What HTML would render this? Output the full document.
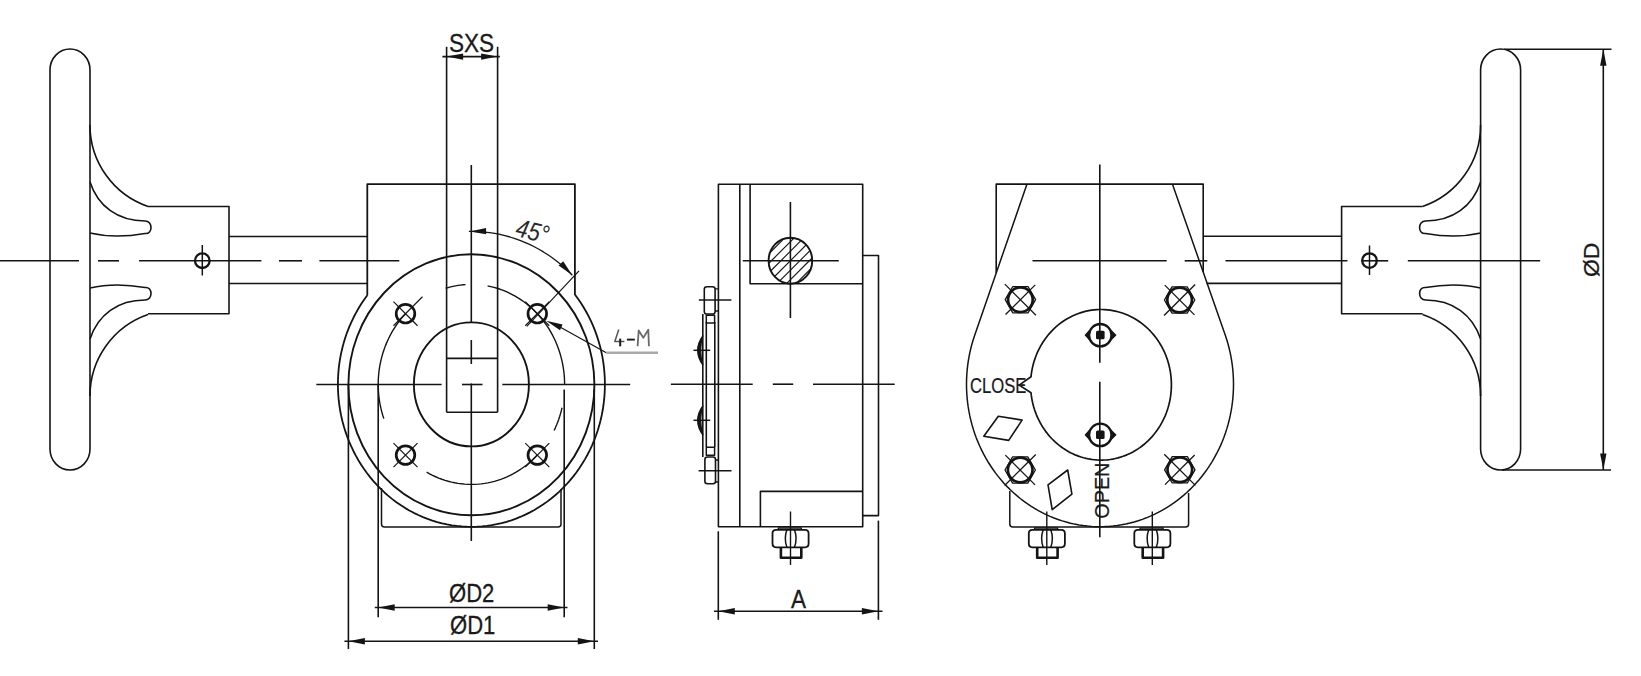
<!DOCTYPE html>
<html><head><meta charset="utf-8"><style>
html,body{margin:0;padding:0;background:#fff;}
svg{display:block;font-family:"Liberation Sans",sans-serif;}
</style></head><body>
<svg width="1641" height="676" viewBox="0 0 1641 676">
<rect width="1641" height="676" fill="#fff"/>
<path d="M50,70 A20,21 0 0 1 90,70 L90,449 A20,21 0 0 1 50,449 Z" fill="none" stroke="#141414" stroke-width="1.6" stroke-linejoin="round" />
<path d="M90,125 A86,86 0 0 0 148,206.5" fill="none" stroke="#141414" stroke-width="1.6" stroke-linejoin="round" />
<path d="M90,182 C98,206.5 118,221 145,221 C153,221 153,234.5 145,233.5 C125,237 105,236.5 90,233" fill="none" stroke="#141414" stroke-width="1.6" stroke-linejoin="round" />
<path d="M90,396 A86,86 0 0 1 148,314.5" fill="none" stroke="#141414" stroke-width="1.6" stroke-linejoin="round" />
<path d="M90,339 C98,314.5 118,300 145,300 C153,300 153,286.5 145,287.5 C125,284 105,284.5 90,288" fill="none" stroke="#141414" stroke-width="1.6" stroke-linejoin="round" />
<path d="M148,206.5 L229,206.5 L229,313.7 L148,313.7" fill="none" stroke="#141414" stroke-width="1.6" stroke-linejoin="round" />
<line x1="229" y1="236.5" x2="368" y2="236.5" stroke="#141414" stroke-width="1.6" />
<line x1="229" y1="283.5" x2="368" y2="283.5" stroke="#141414" stroke-width="1.6" />
<circle cx="202.3" cy="260.7" r="7.3" fill="none" stroke="#141414" stroke-width="2.3"/>
<line x1="202.3" y1="245" x2="202.3" y2="275.5" stroke="#141414" stroke-width="1.5" />
<line x1="0" y1="260.8" x2="79" y2="260.8" stroke="#141414" stroke-width="1.6" />
<line x1="98" y1="260.8" x2="119" y2="260.8" stroke="#141414" stroke-width="1.6" />
<line x1="139" y1="260.8" x2="261.4" y2="260.8" stroke="#141414" stroke-width="1.6" />
<line x1="279" y1="260.8" x2="302" y2="260.8" stroke="#141414" stroke-width="1.6" />
<line x1="319.4" y1="260.8" x2="399.3" y2="260.8" stroke="#141414" stroke-width="1.6" />
<path d="M367.3,295.25 L367.3,184.1 L574.9,184.1 L574.9,294.46 L577.99,298.66 L580.93,302.99 L583.71,307.43 L586.34,311.97 L588.81,316.62 L591.11,321.37 L593.24,326.2 L595.2,331.12 L596.99,336.11 L598.6,341.16 L600.03,346.28 L601.28,351.46 L602.35,356.67 L603.23,361.93 L603.93,367.22 L604.44,372.54 L604.76,377.87 L604.9,383.21 L604.84,388.55 L604.6,393.88 L604.18,399.21 L603.56,404.51 L602.76,409.78 L601.78,415.02 L600.61,420.21 L599.26,425.36 L597.73,430.44 L596.02,435.46 L594.14,440.41 L592.08,445.28 L589.86,450.07 L587.46,454.76 L584.91,459.36 L582.19,463.84 L579.32,468.22 L576.3,472.48 L573.13,476.61 L569.81,480.62 L566.36,484.49 L562.78,488.22 L559.06,491.8 L555.22,495.23 L551.27,498.51 L547.2,501.62 L543.02,504.57 L538.75,507.35 L534.38,509.96 L529.92,512.39 L525.38,514.64 L520.76,516.71 L516.07,518.59 L511.32,520.28 L506.52,521.79 L501.66,523.09 L496.76,524.21 L491.83,525.12 L486.87,525.84 L481.88,526.36 L476.88,526.68 L471.88,526.8 L466.87,526.72 L461.87,526.44 L456.88,525.96 L451.91,525.27 L446.97,524.4 L442.07,523.32 L437.21,522.05 L432.39,520.58 L427.63,518.93 L422.93,517.08 L418.3,515.05 L413.74,512.83 L409.27,510.44 L404.88,507.86 L400.58,505.11 L396.39,502.2 L392.3,499.11 L388.32,495.87 L384.46,492.47 L380.72,488.91 L377.11,485.21 L373.63,481.37 L370.29,477.39 L367.09,473.28 L364.04,469.04 L361.14,464.69 L358.4,460.22 L355.81,455.65 L353.39,450.97 L351.13,446.2 L349.04,441.35 L347.12,436.41 L345.38,431.4 L343.82,426.33 L342.43,421.2 L341.23,416.01 L340.21,410.78 L339.38,405.51 L338.73,400.22 L338.26,394.9 L337.99,389.57 L337.9,384.22 L338,378.88 L338.29,373.55 L338.76,368.23 L339.42,362.94 L340.27,357.67 L341.3,352.45 L342.52,347.26 L343.92,342.13 L345.49,337.06 L347.24,332.06 L349.17,327.13 L351.27,322.28 L353.54,317.52 L355.98,312.85 L358.57,308.28 L361.33,303.82 L364.24,299.48 L367.3,295.25" fill="none" stroke="#141414" stroke-width="1.8" stroke-linejoin="round" />
<ellipse cx="471.4" cy="384.8" rx="123" ry="130.5" fill="none" stroke="#141414" stroke-width="1.9"/>
<ellipse cx="471.4" cy="384.4" rx="57.5" ry="62" fill="none" stroke="#141414" stroke-width="1.9"/>
<line x1="446.6" y1="46.8" x2="446.6" y2="412.3" stroke="#141414" stroke-width="1.6" />
<line x1="497.6" y1="46.8" x2="497.6" y2="412.3" stroke="#141414" stroke-width="1.6" />
<line x1="446.6" y1="358.4" x2="497.6" y2="358.4" stroke="#141414" stroke-width="1.6" />
<line x1="446.6" y1="412.3" x2="497.6" y2="412.3" stroke="#141414" stroke-width="1.6" />
<line x1="471.3" y1="165" x2="471.3" y2="322" stroke="#141414" stroke-width="1.6" />
<line x1="471.3" y1="340" x2="471.3" y2="364" stroke="#141414" stroke-width="1.6" />
<line x1="471.3" y1="383.5" x2="471.3" y2="541" stroke="#141414" stroke-width="1.6" />
<line x1="316.3" y1="384.5" x2="441.6" y2="384.5" stroke="#141414" stroke-width="1.6" />
<line x1="462" y1="384.5" x2="482.5" y2="384.5" stroke="#141414" stroke-width="1.6" />
<line x1="502.3" y1="384.5" x2="630.2" y2="384.5" stroke="#141414" stroke-width="1.6" />
<path d="M487.58,285.92 L490.78,286.59 L493.95,287.37 L497.09,288.27 L500.2,289.29 L503.28,290.43 L506.31,291.68 L509.31,293.05 L512.26,294.52 L515.15,296.11 L518,297.8 L520.79,299.6 L523.52,301.5 L526.18,303.5 L528.78,305.6 L531.31,307.8 L533.76,310.09 L536.14,312.47 L538.44,314.93 L540.66,317.49 L542.8,320.12 L544.84,322.83 L546.8,325.62 L548.67,328.48 L550.44,331.41 L552.11,334.4 L553.69,337.45 L555.17,340.56 L556.54,343.73 L557.81,346.94 L558.98,350.2 L560.04,353.5 L560.99,356.84 L561.83,360.21 L562.56,363.61 L563.18,367.04 L563.69,370.48 L564.09,373.95 L564.37,377.42 L564.54,380.91 L564.6,384.4" fill="none" stroke="#141414" stroke-width="1.4" stroke-linejoin="round" />
<path d="M562.02,407.74 L561.32,410.7 L560.53,413.64 L559.65,416.54 L558.7,419.42 L557.66,422.26 L556.54,425.07 L555.35,427.84 L554.07,430.57" fill="none" stroke="#141414" stroke-width="1.4" stroke-linejoin="round" />
<path d="M537.3,455.11 L534.91,457.59 L532.43,459.98 L529.87,462.27 L527.24,464.46 L524.54,466.55 L521.77,468.54 L518.94,470.41 L516.05,472.18 L513.09,473.83 L510.09,475.38 L507.04,476.8 L503.94,478.11 L500.8,479.3 L497.62,480.36 L494.41,481.31 L491.17,482.13 L487.9,482.82 L484.61,483.39 L481.31,483.83 L477.99,484.15 L474.67,484.34 L471.34,484.4 L468.01,484.33 L464.68,484.14 L461.37,483.82 L458.06,483.37 L454.78,482.8 L451.51,482.1 L448.27,481.27 L445.06,480.32 L441.88,479.25 L438.74,478.06 L435.65,476.75 L432.59,475.32 L429.59,473.77 L426.64,472.11" fill="none" stroke="#141414" stroke-width="1.4" stroke-linejoin="round" />
<path d="M383.82,418.6 L382.75,415.25 L381.78,411.86 L380.93,408.43 L380.19,404.98 L379.57,401.5 L379.07,397.99 L378.67,394.47 L378.4,390.94 L378.24,387.4 L378.2,383.85 L378.28,380.31 L378.47,376.77 L378.78,373.24 L379.21,369.73 L379.75,366.23 L380.41,362.76 L381.18,359.31 L382.07,355.89 L383.06,352.51 L384.17,349.17 L385.39,345.88 L386.72,342.63 L388.15,339.44 L389.69,336.3 L391.33,333.22 L393.07,330.21 L394.91,327.27 L396.84,324.39 L398.87,321.6 L400.99,318.88 L403.2,316.24 L405.5,313.69" fill="none" stroke="#141414" stroke-width="1.4" stroke-linejoin="round" />
<path d="M445.71,288.27 L448.14,287.56 L450.59,286.92 L453.06,286.36 L455.54,285.86 L458.03,285.43 L460.53,285.08 L463.03,284.8 L465.55,284.6" fill="none" stroke="#141414" stroke-width="1.4" stroke-linejoin="round" />
<path d="M381.5,488 L381.5,523.9 Q381.5,526.9 384.5,526.9 L558,526.9 Q561,526.9 561,523.9 L561,489" fill="none" stroke="#141414" stroke-width="1.5" stroke-linejoin="round" />
<line x1="417.52" y1="325.71" x2="393.48" y2="301.67" stroke="#141414" stroke-width="1.2" />
<line x1="393.48" y1="325.71" x2="422.47" y2="296.72" stroke="#141414" stroke-width="1.2" />
<circle cx="405.5" cy="313.69" r="9.3" fill="none" stroke="#141414" stroke-width="2.7"/>
<line x1="525.28" y1="325.71" x2="549.32" y2="301.67" stroke="#141414" stroke-width="1.2" />
<line x1="525.28" y1="301.67" x2="549.32" y2="325.71" stroke="#141414" stroke-width="1.2" />
<circle cx="537.3" cy="313.69" r="9.3" fill="none" stroke="#141414" stroke-width="2.7"/>
<line x1="525.28" y1="443.09" x2="549.32" y2="467.13" stroke="#141414" stroke-width="1.2" />
<line x1="549.32" y1="443.09" x2="525.28" y2="467.13" stroke="#141414" stroke-width="1.2" />
<circle cx="537.3" cy="455.11" r="9.3" fill="none" stroke="#141414" stroke-width="2.7"/>
<line x1="417.52" y1="443.09" x2="393.48" y2="467.13" stroke="#141414" stroke-width="1.2" />
<line x1="417.52" y1="467.13" x2="393.48" y2="443.09" stroke="#141414" stroke-width="1.2" />
<circle cx="405.5" cy="455.11" r="9.3" fill="none" stroke="#141414" stroke-width="2.7"/>
<path d="M468.89,231.42 L474.08,231.43 L479.28,231.63 L484.46,232.03 L489.63,232.63 L494.77,233.43 L499.89,234.42 L504.96,235.61 L509.99,237 L514.97,238.57 L519.9,240.34 L524.76,242.29 L529.55,244.43 L534.27,246.75 L538.9,249.25 L543.45,251.93 L547.9,254.78 L552.25,257.8 L556.5,260.98 L560.64,264.32 L564.66,267.82 L568.56,271.47 L572.33,275.27" fill="none" stroke="#141414" stroke-width="1.3" stroke-linejoin="round" />
<polygon points="469.6,231.5 486.03,227.97 486.16,234.37" fill="#141414"/>
<polygon points="572.33,275.27 558.61,265.57 563.23,261.14" fill="#141414"/>
<line x1="579" y1="270.8" x2="526.8" y2="326.4" stroke="#141414" stroke-width="1.2" />
<text x="0" y="0" font-size="23" text-anchor="start" fill="#2a2a2a" stroke="#2a2a2a" stroke-width="0" transform="translate(514.5,235.8) rotate(14) scale(0.95,1.12)" style="font-style:italic">45°</text>
<polygon points="546.2,320.7 562.59,324.42 560.01,330.27" fill="#141414"/>
<line x1="560" y1="326.9" x2="606.3" y2="352.8" stroke="#141414" stroke-width="1.2" />
<line x1="606.3" y1="352.8" x2="658" y2="352.8" stroke="#aaaaaa" stroke-width="2.6" />
<path d="M618.8,329.6 L614.8,341.6 L624.4,341.6" fill="none" stroke="#555" stroke-width="1.5" stroke-linejoin="round" />
<line x1="620.2" y1="338.6" x2="620.2" y2="346.3" stroke="#1a1a1a" stroke-width="2.0" />
<line x1="626.9" y1="339.6" x2="634.8" y2="339.6" stroke="#1a1a1a" stroke-width="1.9" />
<path d="M637.6,346.2 L638.7,330.4 L643.3,337.8 L648.3,329.8 L648.9,346.2" fill="none" stroke="#6a6a6a" stroke-width="1.8" stroke-linejoin="round" />
<line x1="348.4" y1="385" x2="348.4" y2="649" stroke="#141414" stroke-width="1.6" />
<line x1="378.2" y1="385" x2="378.2" y2="617.3" stroke="#141414" stroke-width="1.6" />
<line x1="564.2" y1="389.6" x2="564.2" y2="617.3" stroke="#141414" stroke-width="1.6" />
<line x1="594.3" y1="389.6" x2="594.3" y2="649" stroke="#141414" stroke-width="1.6" />
<line x1="374.8" y1="607.5" x2="567.5" y2="607.5" stroke="#141414" stroke-width="1.6" />
<polygon points="378.2,607.5 394.7,604.3 394.7,610.7" fill="#141414"/>
<polygon points="564.2,607.5 547.7,610.7 547.7,604.3" fill="#141414"/>
<line x1="344.4" y1="641.2" x2="598" y2="641.2" stroke="#141414" stroke-width="1.6" />
<polygon points="348.4,641.2 364.9,638 364.9,644.4" fill="#141414"/>
<polygon points="594.3,641.2 577.8,644.4 577.8,638" fill="#141414"/>
<text x="0" y="0" font-size="23" text-anchor="start" fill="#1a1a1a" stroke="#1a1a1a" stroke-width="0.25" transform="translate(449,602.4) scale(0.96,1.1)" style="">ØD2</text>
<text x="0" y="0" font-size="23" text-anchor="start" fill="#1a1a1a" stroke="#1a1a1a" stroke-width="0.25" transform="translate(450,634.2) scale(0.96,1.1)" style="">ØD1</text>
<line x1="442.4" y1="56.6" x2="499.8" y2="56.6" stroke="#141414" stroke-width="1.6" />
<polygon points="446.6,56.6 463.1,53.4 463.1,59.8" fill="#141414"/>
<polygon points="497.6,56.6 481.1,59.8 481.1,53.4" fill="#141414"/>
<text x="0" y="0" font-size="23" text-anchor="start" fill="#1a1a1a" stroke="#1a1a1a" stroke-width="0.25" transform="translate(449,51.8) scale(0.98,1.12)" style="">SXS</text>
<path d="M718.4,184.2 L862.7,184.2 L862.7,526.8 L718.4,526.8 Z" fill="none" stroke="#141414" stroke-width="1.6" stroke-linejoin="round" />
<line x1="739.8" y1="184.2" x2="739.8" y2="526.8" stroke="#141414" stroke-width="1.6" />
<path d="M750.1,184.2 L750.1,283.7 L862.7,283.7" fill="none" stroke="#141414" stroke-width="1.6" stroke-linejoin="round" />
<path d="M760.4,526.8 L760.4,491.4 L862.7,491.4" fill="none" stroke="#141414" stroke-width="1.6" stroke-linejoin="round" />
<path d="M862.7,255.5 L878.5,255.5 L878.5,515.6 L862.7,515.6" fill="none" stroke="#141414" stroke-width="1.6" stroke-linejoin="round" />
<clipPath id="hc"><ellipse cx="790.4" cy="260.7" rx="21.8" ry="23"/></clipPath>
<g clip-path="url(#hc)"><line x1="712.9" y1="290.7" x2="772.9" y2="230.7" stroke="#141414" stroke-width="1.1"/><line x1="722.4" y1="290.7" x2="782.4" y2="230.7" stroke="#141414" stroke-width="1.1"/><line x1="731.9" y1="290.7" x2="791.9" y2="230.7" stroke="#141414" stroke-width="1.1"/><line x1="741.4" y1="290.7" x2="801.4" y2="230.7" stroke="#141414" stroke-width="1.1"/><line x1="750.9" y1="290.7" x2="810.9" y2="230.7" stroke="#141414" stroke-width="1.1"/><line x1="760.4" y1="290.7" x2="820.4" y2="230.7" stroke="#141414" stroke-width="1.1"/><line x1="769.9" y1="290.7" x2="829.9" y2="230.7" stroke="#141414" stroke-width="1.1"/><line x1="779.4" y1="290.7" x2="839.4" y2="230.7" stroke="#141414" stroke-width="1.1"/><line x1="788.9" y1="290.7" x2="848.9" y2="230.7" stroke="#141414" stroke-width="1.1"/><line x1="798.4" y1="290.7" x2="858.4" y2="230.7" stroke="#141414" stroke-width="1.1"/><line x1="807.9" y1="290.7" x2="867.9" y2="230.7" stroke="#141414" stroke-width="1.1"/></g>
<ellipse cx="790.4" cy="260.7" rx="21.8" ry="23" fill="none" stroke="#141414" stroke-width="1.9"/>
<line x1="742.8" y1="260.7" x2="838.8" y2="260.7" stroke="#141414" stroke-width="1.6" />
<line x1="790.4" y1="202" x2="790.4" y2="318" stroke="#141414" stroke-width="1.6" />
<line x1="670.9" y1="384.2" x2="752.7" y2="384.2" stroke="#141414" stroke-width="1.6" />
<line x1="772.8" y1="384.2" x2="793.2" y2="384.2" stroke="#141414" stroke-width="1.6" />
<line x1="813" y1="384.2" x2="894.7" y2="384.2" stroke="#141414" stroke-width="1.6" />
<line x1="702.8" y1="314" x2="702.8" y2="457" stroke="#141414" stroke-width="1.6" />
<line x1="706.3" y1="322" x2="706.3" y2="447" stroke="#141414" stroke-width="1.6" />
<line x1="714.8" y1="322" x2="714.8" y2="447" stroke="#141414" stroke-width="1.6" />
<path d="M704.3,289 Q704.3,286.7 707,286.7 L712.5,286.7 Q715.1,286.7 715.1,289 L715.1,311.7 Q715.1,314 712.5,314 L707,314 Q704.3,314 704.3,311.7 Z" fill="none" stroke="#141414" stroke-width="1.6" stroke-linejoin="round" />
<path d="M715.1,288.9 L718.4,288.9 M715.1,311 L718.4,311" fill="none" stroke="#141414" stroke-width="1.3" stroke-linejoin="round" />
<path d="M706.3,315.2 L714.6,315.2 L714.6,322.9 L706.3,322.9 Z" fill="none" stroke="#141414" stroke-width="1.5" stroke-linejoin="round" />
<line x1="698.8" y1="300" x2="731.4" y2="300" stroke="#141414" stroke-width="1.5" />
<path d="M704.9,459.5 Q704.9,457 707.5,457 L713,457 Q715.5,457 715.5,459.5 L715.5,481.2 Q715.5,483.7 713,483.7 L707.5,483.7 Q704.9,483.7 704.9,481.2 Z" fill="none" stroke="#141414" stroke-width="1.6" stroke-linejoin="round" />
<path d="M715.5,460 L718.4,460 M715.5,482 L718.4,482" fill="none" stroke="#141414" stroke-width="1.3" stroke-linejoin="round" />
<path d="M706.3,447.3 L714.6,447.3 L714.6,455.3 L706.3,455.3 Z" fill="none" stroke="#141414" stroke-width="1.5" stroke-linejoin="round" />
<line x1="698.6" y1="470.7" x2="731.5" y2="470.7" stroke="#141414" stroke-width="1.5" />
<path d="M702.8,335.8 Q692.5,350.3 702.8,364.8 Q698.5,350.3 702.8,335.8 Z" fill="#141414" stroke="#141414" stroke-width="1.3" stroke-linejoin="round" />
<line x1="693.5" y1="350.3" x2="710.2" y2="350.3" stroke="#141414" stroke-width="1.5" />
<path d="M702.8,405.8 Q692.5,420.3 702.8,434.8 Q698.5,420.3 702.8,405.8 Z" fill="#141414" stroke="#141414" stroke-width="1.3" stroke-linejoin="round" />
<line x1="693.5" y1="420.3" x2="710.2" y2="420.3" stroke="#141414" stroke-width="1.5" />
<path d="M778.3,530 L778.3,528 L801.3,528 L801.3,530" fill="none" stroke="#141414" stroke-width="1.3" stroke-linejoin="round" />
<path d="M772.5,533.5 Q772.5,529.8 776,529.8 L805.1,529.8 Q808.6,529.8 808.6,533.5 L808.6,543.6 Q808.6,547.3 805.1,547.3 L776,547.3 Q772.5,547.3 772.5,543.6 Z" fill="none" stroke="#141414" stroke-width="1.8" stroke-linejoin="round" />
<path d="M786.9,529.8 Q783.7,538.5 786.9,547.3 M794.5,529.8 Q797.7,538.5 794.5,547.3" fill="none" stroke="#141414" stroke-width="1.5" stroke-linejoin="round" />
<path d="M780.9,547.3 L780.9,557.8 L801.3,557.8 L801.3,547.3" fill="none" stroke="#141414" stroke-width="2.6" stroke-linejoin="round" />
<line x1="790.5" y1="511.5" x2="790.5" y2="565" stroke="#141414" stroke-width="1.4" />
<line x1="718.3" y1="531.3" x2="718.3" y2="619.8" stroke="#141414" stroke-width="1.6" />
<line x1="878.4" y1="520.6" x2="878.4" y2="619.8" stroke="#141414" stroke-width="1.6" />
<line x1="714" y1="611.3" x2="882.5" y2="611.3" stroke="#141414" stroke-width="1.6" />
<polygon points="718.3,611.3 734.8,608.1 734.8,614.5" fill="#141414"/>
<polygon points="878.4,611.3 861.9,614.5 861.9,608.1" fill="#141414"/>
<text x="0" y="0" font-size="23" text-anchor="start" fill="#1a1a1a" stroke="#1a1a1a" stroke-width="0.25" transform="translate(791,608.3) scale(0.98,1.1)" style="">A</text>
<path d="M1027,184.1 L974.79,334.9 M1172.4,184.1 L1225.05,334.43 M1225.05,334.43 L1226.48,338.74 L1227.79,343.09 L1228.96,347.49 L1230,351.93 L1230.91,356.4 L1231.68,360.9 L1232.32,365.42 L1232.82,369.96 L1233.18,374.52 L1233.41,379.08 L1233.5,383.65 L1233.45,388.23 L1233.26,392.79 L1232.94,397.35 L1232.48,401.9 L1231.88,406.43 L1231.14,410.93 L1230.27,415.41 L1229.27,419.86 L1228.13,424.27 L1226.86,428.63 L1225.46,432.96 L1223.94,437.23 L1222.28,441.45 L1220.5,445.6 L1218.59,449.7 L1216.56,453.73 L1214.41,457.68 L1212.14,461.56 L1209.76,465.37 L1207.26,469.08 L1204.65,472.71 L1201.94,476.25 L1199.12,479.69 L1196.19,483.04 L1193.17,486.28 L1190.05,489.42 L1186.84,492.45 L1183.54,495.37 L1180.16,498.18 L1176.69,500.86 L1173.14,503.43 L1169.52,505.87 L1165.82,508.19 L1162.06,510.38 L1158.23,512.44 L1154.34,514.37 L1150.4,516.16 L1146.4,517.82 L1142.36,519.34 L1138.27,520.72 L1134.15,521.96 L1129.99,523.06 L1125.79,524.02 L1121.57,524.83 L1117.33,525.49 L1113.07,526.02 L1108.8,526.39 L1104.52,526.62 L1100.23,526.7 L1095.95,526.63 L1091.66,526.42 L1087.39,526.06 L1083.13,525.56 L1078.89,524.91 L1074.66,524.11 L1070.47,523.17 L1066.3,522.09 L1062.17,520.86 L1058.08,519.5 L1054.03,517.99 L1050.03,516.35 L1046.08,514.57 L1042.19,512.66 L1038.36,510.61 L1034.59,508.43 L1030.88,506.13 L1027.25,503.7 L1023.69,501.15 L1020.22,498.47 L1016.82,495.68 L1013.51,492.78 L1010.29,489.76 L1007.16,486.63 L1004.13,483.4 L1001.2,480.06 L998.36,476.63 L995.64,473.1 L993.02,469.48 L990.51,465.77 L988.11,461.98 L985.83,458.11 L983.67,454.16 L981.63,450.14 L979.71,446.05 L977.91,441.9 L976.24,437.69 L974.7,433.42 L973.28,429.11 L972,424.74 L970.85,420.34 L969.83,415.9 L968.94,411.42 L968.2,406.92 L967.58,402.39 L967.11,397.85 L966.77,393.29 L966.56,388.72 L966.5,384.15 L966.57,379.58 L966.78,375.01 L967.13,370.45 L967.62,365.91 L968.24,361.39 L969,356.88 L969.89,352.41 L970.92,347.97 L972.08,343.57 L973.37,339.21 L974.79,334.9" fill="none" stroke="#141414" stroke-width="1.5" stroke-linejoin="round" />
<path d="M996.2,273.06 L996.2,184.1 L1203.2,184.1 L1203.2,272.05" fill="none" stroke="#141414" stroke-width="1.6" stroke-linejoin="round" />
<path d="M1031,376.8 L1031.33,373.97 L1031.77,371.15 L1032.3,368.35 L1032.93,365.57 L1033.66,362.83 L1034.49,360.11 L1035.42,357.43 L1036.43,354.79 L1037.54,352.19 L1038.75,349.64 L1040.04,347.14 L1041.42,344.69 L1042.88,342.3 L1044.43,339.98 L1046.06,337.71 L1047.77,335.52 L1049.56,333.39 L1051.42,331.34 L1053.35,329.37 L1055.35,327.48 L1057.41,325.67 L1059.54,323.94 L1061.73,322.3 L1063.97,320.76 L1066.27,319.3 L1068.62,317.94 L1071.01,316.67 L1073.45,315.5 L1075.93,314.44 L1078.44,313.47 L1080.99,312.61 L1083.56,311.85 L1086.16,311.19 L1088.78,310.64 L1091.42,310.2 L1094.07,309.87 L1096.74,309.64 L1099.41,309.52 L1102.08,309.51 L1104.75,309.61 L1107.41,309.81 L1110.06,310.13 L1112.7,310.55 L1115.33,311.08 L1117.93,311.71 L1120.51,312.45 L1123.07,313.29 L1125.58,314.24 L1128.07,315.29 L1130.51,316.44 L1132.92,317.68 L1135.28,319.03 L1137.58,320.46 L1139.84,322 L1142.04,323.62 L1144.18,325.33 L1146.26,327.12 L1148.27,329 L1150.21,330.96 L1152.09,332.99 L1153.89,335.1 L1155.61,337.28 L1157.26,339.53 L1158.82,341.85 L1160.3,344.22 L1161.7,346.66 L1163.01,349.15 L1164.23,351.69 L1165.36,354.28 L1166.39,356.91 L1167.34,359.59 L1168.18,362.29 L1168.93,365.04 L1169.58,367.81 L1170.14,370.6 L1170.59,373.42 L1170.94,376.25 L1171.2,379.09 L1171.35,381.94 L1171.4,384.8 L1171.35,387.66 L1171.2,390.51 L1170.94,393.35 L1170.59,396.18 L1170.14,399 L1169.58,401.79 L1168.93,404.56 L1168.18,407.31 L1167.34,410.01 L1166.39,412.69 L1165.36,415.32 L1164.23,417.91 L1163.01,420.45 L1161.7,422.94 L1160.3,425.38 L1158.82,427.75 L1157.26,430.07 L1155.61,432.32 L1153.89,434.5 L1152.09,436.61 L1150.21,438.64 L1148.27,440.6 L1146.26,442.48 L1144.18,444.27 L1142.04,445.98 L1139.84,447.6 L1137.58,449.14 L1135.28,450.57 L1132.92,451.92 L1130.51,453.16 L1128.07,454.31 L1125.58,455.36 L1123.07,456.31 L1120.51,457.15 L1117.93,457.89 L1115.33,458.52 L1112.7,459.05 L1110.06,459.47 L1107.41,459.79 L1104.75,459.99 L1102.08,460.09 L1099.41,460.08 L1096.74,459.96 L1094.07,459.73 L1091.42,459.4 L1088.78,458.96 L1086.16,458.41 L1083.56,457.75 L1080.99,456.99 L1078.44,456.13 L1075.93,455.16 L1073.45,454.1 L1071.01,452.93 L1068.62,451.66 L1066.27,450.3 L1063.97,448.84 L1061.73,447.3 L1059.54,445.66 L1057.41,443.93 L1055.35,442.12 L1053.35,440.23 L1051.42,438.26 L1049.56,436.21 L1047.77,434.08 L1046.06,431.89 L1044.43,429.62 L1042.88,427.3 L1041.42,424.91 L1040.04,422.46 L1038.75,419.96 L1037.54,417.41 L1036.43,414.81 L1035.42,412.17 L1034.49,409.49 L1033.66,406.77 L1032.93,404.03 L1032.3,401.25 L1031.77,398.45 L1031.33,395.63 L1031,392.8 L1019.2,385.1 Z" fill="none" stroke="#141414" stroke-width="1.7" stroke-linejoin="round" />
<circle cx="1100.3" cy="335.2" r="11.2" fill="none" stroke="#141414" stroke-width="2.3"/>
<path d="M1089.8,330.2 L1085.3,335.2 L1089.8,340.2 M1110.8,330.2 L1115.8,335.2 L1110.8,340.2" fill="#141414" stroke="#141414" stroke-width="1.2" stroke-linejoin="round" />
<rect x="1096" y="330.7" width="8.6" height="8.6" rx="1.5" fill="#141414"/>
<circle cx="1100.3" cy="434.9" r="11.2" fill="none" stroke="#141414" stroke-width="2.3"/>
<path d="M1089.8,429.9 L1085.3,434.9 L1089.8,439.9 M1110.8,429.9 L1115.8,434.9 L1110.8,439.9" fill="#141414" stroke="#141414" stroke-width="1.2" stroke-linejoin="round" />
<rect x="1096" y="430.4" width="8.6" height="8.6" rx="1.5" fill="#141414"/>
<line x1="1099.8" y1="164.6" x2="1099.8" y2="362.7" stroke="#141414" stroke-width="1.6" />
<line x1="1099.8" y1="381.7" x2="1099.8" y2="537.2" stroke="#141414" stroke-width="1.6" />
<line x1="1032.5" y1="260.8" x2="1166.7" y2="260.8" stroke="#141414" stroke-width="1.6" />
<line x1="1184.7" y1="260.8" x2="1207.3" y2="260.8" stroke="#141414" stroke-width="1.6" />
<line x1="1225.5" y1="260.8" x2="1347.5" y2="260.8" stroke="#141414" stroke-width="1.6" />
<line x1="1361.5" y1="260.8" x2="1388.2" y2="260.8" stroke="#141414" stroke-width="1.6" />
<line x1="1407.8" y1="260.8" x2="1540.2" y2="260.8" stroke="#141414" stroke-width="1.6" />
<line x1="1035.96" y1="315.26" x2="1004.84" y2="284.14" stroke="#141414" stroke-width="1.3" />
<line x1="1005.55" y1="314.55" x2="1035.25" y2="284.85" stroke="#141414" stroke-width="1.3" />
<path d="M1005.2,299.7 L1012.8,286.54 L1028,286.54 L1035.6,299.7 L1028,312.86 L1012.8,312.86 Z" fill="none" stroke="#141414" stroke-width="1.3" stroke-linejoin="round" />
<circle cx="1020.4" cy="299.7" r="12.3" fill="none" stroke="#141414" stroke-width="2.7"/>
<line x1="1164.04" y1="315.56" x2="1195.16" y2="284.44" stroke="#141414" stroke-width="1.3" />
<line x1="1164.75" y1="285.15" x2="1194.45" y2="314.85" stroke="#141414" stroke-width="1.3" />
<path d="M1164.4,300 L1172,286.84 L1187.2,286.84 L1194.8,300 L1187.2,313.16 L1172,313.16 Z" fill="none" stroke="#141414" stroke-width="1.3" stroke-linejoin="round" />
<circle cx="1179.6" cy="300" r="12.3" fill="none" stroke="#141414" stroke-width="2.7"/>
<line x1="1035.76" y1="454.44" x2="1004.64" y2="485.56" stroke="#141414" stroke-width="1.3" />
<line x1="1035.05" y1="484.85" x2="1005.35" y2="455.15" stroke="#141414" stroke-width="1.3" />
<path d="M1005,470 L1012.6,456.84 L1027.8,456.84 L1035.4,470 L1027.8,483.16 L1012.6,483.16 Z" fill="none" stroke="#141414" stroke-width="1.3" stroke-linejoin="round" />
<circle cx="1020.2" cy="470" r="12.3" fill="none" stroke="#141414" stroke-width="2.7"/>
<line x1="1164.24" y1="454.24" x2="1195.36" y2="485.36" stroke="#141414" stroke-width="1.3" />
<line x1="1194.65" y1="454.95" x2="1164.95" y2="484.65" stroke="#141414" stroke-width="1.3" />
<path d="M1164.6,469.8 L1172.2,456.64 L1187.4,456.64 L1195,469.8 L1187.4,482.96 L1172.2,482.96 Z" fill="none" stroke="#141414" stroke-width="1.3" stroke-linejoin="round" />
<circle cx="1179.8" cy="469.8" r="12.3" fill="none" stroke="#141414" stroke-width="2.7"/>
<path d="M983.8,436.2 L998.3,416.2 L1022.1,420.1 L1008.7,440.4 Z" fill="none" stroke="#141414" stroke-width="1.6" stroke-linejoin="round" />
<path d="M1048,484.9 L1067.7,470 L1071.9,494.2 L1052.2,509.7 Z" fill="none" stroke="#141414" stroke-width="1.6" stroke-linejoin="round" />
<path d="M1009.8,491 L1009.8,524 Q1009.8,527 1012.8,527 L1185.6,527 Q1188.6,527 1188.6,524 L1188.6,493" fill="none" stroke="#141414" stroke-width="1.5" stroke-linejoin="round" />
<path d="M1034.6,530 L1034.6,528 L1057.6,528 L1057.6,530" fill="none" stroke="#141414" stroke-width="1.3" stroke-linejoin="round" />
<path d="M1028.8,533.5 Q1028.8,529.8 1032.3,529.8 L1061.4,529.8 Q1064.9,529.8 1064.9,533.5 L1064.9,543.6 Q1064.9,547.3 1061.4,547.3 L1032.3,547.3 Q1028.8,547.3 1028.8,543.6 Z" fill="none" stroke="#141414" stroke-width="1.8" stroke-linejoin="round" />
<path d="M1043.2,529.8 Q1040,538.5 1043.2,547.3 M1050.8,529.8 Q1054,538.5 1050.8,547.3" fill="none" stroke="#141414" stroke-width="1.5" stroke-linejoin="round" />
<path d="M1037.2,547.3 L1037.2,557.8 L1057.6,557.8 L1057.6,547.3" fill="none" stroke="#141414" stroke-width="2.6" stroke-linejoin="round" />
<line x1="1046.8" y1="511.5" x2="1046.8" y2="565" stroke="#141414" stroke-width="1.4" />
<path d="M1140.1,530 L1140.1,528 L1163.1,528 L1163.1,530" fill="none" stroke="#141414" stroke-width="1.3" stroke-linejoin="round" />
<path d="M1134.3,533.5 Q1134.3,529.8 1137.8,529.8 L1166.9,529.8 Q1170.4,529.8 1170.4,533.5 L1170.4,543.6 Q1170.4,547.3 1166.9,547.3 L1137.8,547.3 Q1134.3,547.3 1134.3,543.6 Z" fill="none" stroke="#141414" stroke-width="1.8" stroke-linejoin="round" />
<path d="M1148.7,529.8 Q1145.5,538.5 1148.7,547.3 M1156.3,529.8 Q1159.5,538.5 1156.3,547.3" fill="none" stroke="#141414" stroke-width="1.5" stroke-linejoin="round" />
<path d="M1142.7,547.3 L1142.7,557.8 L1163.1,557.8 L1163.1,547.3" fill="none" stroke="#141414" stroke-width="2.6" stroke-linejoin="round" />
<line x1="1152.3" y1="511.5" x2="1152.3" y2="565" stroke="#141414" stroke-width="1.4" />
<line x1="1203.2" y1="236.3" x2="1341.6" y2="236.3" stroke="#141414" stroke-width="1.6" />
<line x1="1206.5" y1="283.4" x2="1341.6" y2="283.4" stroke="#141414" stroke-width="1.6" />
<text x="0" y="0" font-size="21.6" text-anchor="start" fill="#1a1a1a" stroke="#1a1a1a" stroke-width="0.25" transform="translate(970,392.8) scale(0.77,1)" style="">CLOSE</text>
<text x="0" y="0" font-size="20.7" text-anchor="start" fill="#1a1a1a" stroke="#1a1a1a" stroke-width="0.25" transform="translate(1109,518.7) rotate(-90) scale(0.957,1)" style="">OPEN</text>
<path d="M1480.6,70 A20,21 0 0 1 1520.6,70 L1520.6,449 A20,21 0 0 1 1480.6,449 Z" fill="none" stroke="#141414" stroke-width="1.6" stroke-linejoin="round" />
<path d="M1480.6,125 A86,86 0 0 1 1422.6,206.5" fill="none" stroke="#141414" stroke-width="1.6" stroke-linejoin="round" />
<path d="M1480.6,182 C1472.6,206.5 1452.6,221 1425.6,221 C1417.6,221 1417.6,234.5 1425.6,233.5 C1445.6,237 1465.6,236.5 1480.6,233" fill="none" stroke="#141414" stroke-width="1.6" stroke-linejoin="round" />
<path d="M1480.6,396 A86,86 0 0 0 1422.6,314.5" fill="none" stroke="#141414" stroke-width="1.6" stroke-linejoin="round" />
<path d="M1480.6,339 C1472.6,314.5 1452.6,300 1425.6,300 C1417.6,300 1417.6,286.5 1425.6,287.5 C1445.6,284 1465.6,284.5 1480.6,288" fill="none" stroke="#141414" stroke-width="1.6" stroke-linejoin="round" />
<path d="M1422.6,206.5 L1341.6,206.5 L1341.6,313.7 L1422.6,313.7" fill="none" stroke="#141414" stroke-width="1.6" stroke-linejoin="round" />
<circle cx="1369.5" cy="260.6" r="7.3" fill="none" stroke="#141414" stroke-width="2.3"/>
<line x1="1369.5" y1="245.5" x2="1369.5" y2="275" stroke="#141414" stroke-width="1.5" />
<line x1="1504" y1="49.3" x2="1611.5" y2="49.3" stroke="#141414" stroke-width="1.6" />
<line x1="1502" y1="470" x2="1611" y2="470" stroke="#141414" stroke-width="1.6" />
<line x1="1603.3" y1="49.3" x2="1603.3" y2="470" stroke="#141414" stroke-width="1.6" />
<polygon points="1603.3,49.3 1606.5,65.8 1600.1,65.8" fill="#141414"/>
<polygon points="1603.3,470 1600.1,453.5 1606.5,453.5" fill="#141414"/>
<text x="0" y="0" font-size="23" text-anchor="start" fill="#1a1a1a" stroke="#1a1a1a" stroke-width="0.25" transform="translate(1599.3,277) rotate(-90) scale(1,0.92)" style="">ØD</text>
</svg></body></html>
